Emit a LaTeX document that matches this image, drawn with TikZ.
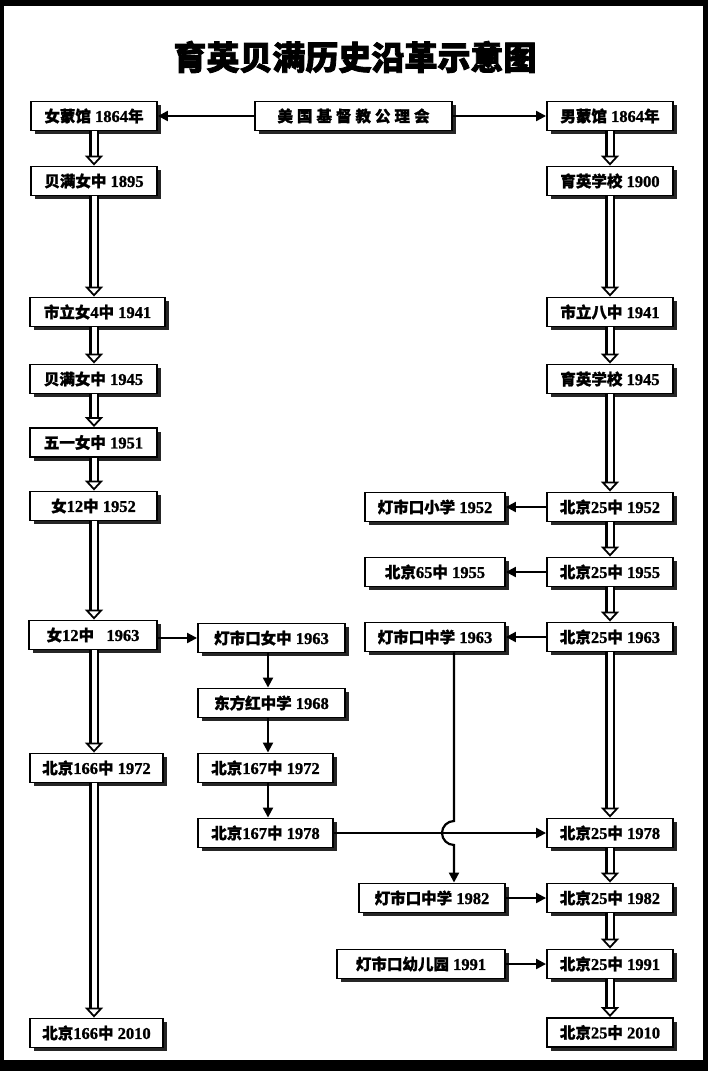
\documentclass[tikz,border=0pt]{standalone}
\usepackage{fontspec}
\setmainfont{Liberation Serif}[BoldFeatures={FakeBold=1.2}]
\newfontfamily\cjk{Noto Sans CJK SC}[Scale=0.94, BoldFeatures={FakeBold=1.2}]
\newfontfamily\cjkt{Noto Sans CJK SC}[BoldFeatures={FakeBold=2.5}]
\usetikzlibrary{arrows.meta,shadows,calc}
\tikzset{
  box/.style={draw=black, line width=1.9pt, fill=white, minimum height=29pt, inner sep=0pt,
    general shadow={fill=black!85, shadow xshift=3.5pt, shadow yshift=-3.5pt},
    font=\bfseries\fontsize{16.5}{16.5}\selectfont},
  thin/.style={line width=2.2pt, -{Triangle[length=10pt,width=10pt]}},
  dshaft/.style={double=white, double distance=5pt, line width=2.2pt, shorten >=9pt},
  dtip/.style={line width=1.8pt, -{Triangle[length=10pt,width=18pt,fill=white]}}
}
\newcommand\dbl[3]{%
  \draw[dshaft] (#1.south -| #3) -- (#2.north -| #3);
  \draw[dtip] ($(#2.north -| #3)+(0,10pt)$) -- (#2.north -| #3);}
\begin{document}
\begin{tikzpicture}[x=1pt,y=1pt]
\useasboundingbox (0,0) rectangle (708,-1071);
\fill[black] (0,0) rectangle (708,-1071);
\fill[white] (4,-6) rectangle (703,-1060);
\coordinate (lx) at (94,0);
\coordinate (rx) at (610,0);
\coordinate (mx) at (268,0);
\coordinate (hx) at (454,0);

\node (title) at (355,-57) {\cjkt\bfseries\fontsize{33}{33}\selectfont 育英贝满历史沿革示意图};

% top
\node[box, minimum width=197pt] (T) at (353.5,-116) {\cjk 美\hspace{4pt}国\hspace{4pt}基\hspace{4pt}督\hspace{4pt}教\hspace{4pt}公\hspace{4pt}理\hspace{4pt}会};
% left column
\node[box, minimum width=126pt] (L1) at (94,-116) {{\cjk 女蒙馆} 1864{\cjk 年}};
\node[box, minimum width=126pt] (L2) at (94,-181) {{\cjk 贝满女中} 1895};
\node[box, minimum width=135pt] (L3) at (97.5,-312) {{\cjk 市立女}4{\cjk 中} 1941};
\node[box, minimum width=127pt] (L4) at (93.5,-379) {{\cjk 贝满女中} 1945};
\node[box, minimum width=127pt] (L5) at (93.5,-442.5) {{\cjk 五一女中} 1951};
\node[box, minimum width=127pt] (L6) at (93.5,-506) {{\cjk 女}12{\cjk 中} 1952};
\node[box, minimum width=128pt] (L7) at (93,-635) {{\cjk 女}12{\cjk 中}\ \ \ 1963};
\node[box, minimum width=133pt] (L8) at (96.5,-768) {{\cjk 北京}166{\cjk 中} 1972};
\node[box, minimum width=133pt] (L9) at (96.5,-1033) {{\cjk 北京}166{\cjk 中} 2010};
% middle column
\node[box, minimum width=147pt] (M1) at (271.5,-638) {{\cjk 灯市口女中} 1963};
\node[box, minimum width=147pt] (M2) at (271.5,-703) {{\cjk 东方红中学} 1968};
\node[box, minimum width=135pt] (M3) at (265.5,-768) {{\cjk 北京}167{\cjk 中} 1972};
\node[box, minimum width=135pt] (M4) at (265.5,-833) {{\cjk 北京}167{\cjk 中} 1978};
% right column
\node[box, minimum width=126pt] (R1) at (610,-116) {{\cjk 男蒙馆} 1864{\cjk 年}};
\node[box, minimum width=126pt] (R2) at (610,-181) {{\cjk 育英学校} 1900};
\node[box, minimum width=126pt] (R3) at (610,-312) {{\cjk 市立八中} 1941};
\node[box, minimum width=126pt] (R4) at (610,-379) {{\cjk 育英学校} 1945};
\node[box, minimum width=126pt] (R5) at (610,-507) {{\cjk 北京}25{\cjk 中} 1952};
\node[box, minimum width=126pt] (R6) at (610,-572) {{\cjk 北京}25{\cjk 中} 1955};
\node[box, minimum width=126pt] (R7) at (610,-637) {{\cjk 北京}25{\cjk 中} 1963};
\node[box, minimum width=126pt] (R8) at (610,-833) {{\cjk 北京}25{\cjk 中} 1978};
\node[box, minimum width=126pt] (R9) at (610,-898) {{\cjk 北京}25{\cjk 中} 1982};
\node[box, minimum width=126pt] (R10) at (610,-964) {{\cjk 北京}25{\cjk 中} 1991};
\node[box, minimum width=126pt] (R11) at (610,-1032.5) {{\cjk 北京}25{\cjk 中} 2010};
% side column
\node[box, minimum width=140pt] (S1) at (435,-507) {{\cjk 灯市口小学} 1952};
\node[box, minimum width=140pt] (S2) at (435,-572) {{\cjk 北京}65{\cjk 中} 1955};
\node[box, minimum width=140pt] (S3) at (435,-637) {{\cjk 灯市口中学} 1963};
\node[box, minimum width=146pt] (S4) at (432,-898) {{\cjk 灯市口中学} 1982};
\node[box, minimum width=168pt] (S5) at (421,-964) {{\cjk 灯市口幼儿园} 1991};

% thin arrows
\draw[thin] (T.west) -- (L1.east);
\draw[thin] (T.east) -- (R1.west);
\draw[thin] (L7.east |- M1) -- (M1.west);
\draw[thin] (R5.west) -- (S1.east);
\draw[thin] (R6.west) -- (S2.east);
\draw[thin] (R7.west) -- (S3.east);
\draw[thin] (M1.south -| mx) -- (M2.north -| mx);
\draw[thin] (M2.south -| mx) -- (M3.north -| mx);
\draw[thin] (M3.south -| mx) -- (M4.north -| mx);
\draw[thin] (M4.east) -- (R8.west);
\draw[thin] (S4.east) -- (R9.west);
\draw[thin] (S5.east) -- (R10.west);
\draw[thin] (S3.south -| hx) -- ($(M4.east -| hx)+(0,12pt)$)
  arc[start angle=90, end angle=270, radius=12pt] -- (S4.north -| hx);

% double arrows
\dbl{L1}{L2}{lx}
\dbl{L2}{L3}{lx}
\dbl{L3}{L4}{lx}
\dbl{L4}{L5}{lx}
\dbl{L5}{L6}{lx}
\dbl{L6}{L7}{lx}
\dbl{L7}{L8}{lx}
\dbl{L8}{L9}{lx}
\dbl{R1}{R2}{rx}
\dbl{R2}{R3}{rx}
\dbl{R3}{R4}{rx}
\dbl{R4}{R5}{rx}
\dbl{R5}{R6}{rx}
\dbl{R6}{R7}{rx}
\dbl{R7}{R8}{rx}
\dbl{R8}{R9}{rx}
\dbl{R9}{R10}{rx}
\dbl{R10}{R11}{rx}
\end{tikzpicture}
\end{document}
